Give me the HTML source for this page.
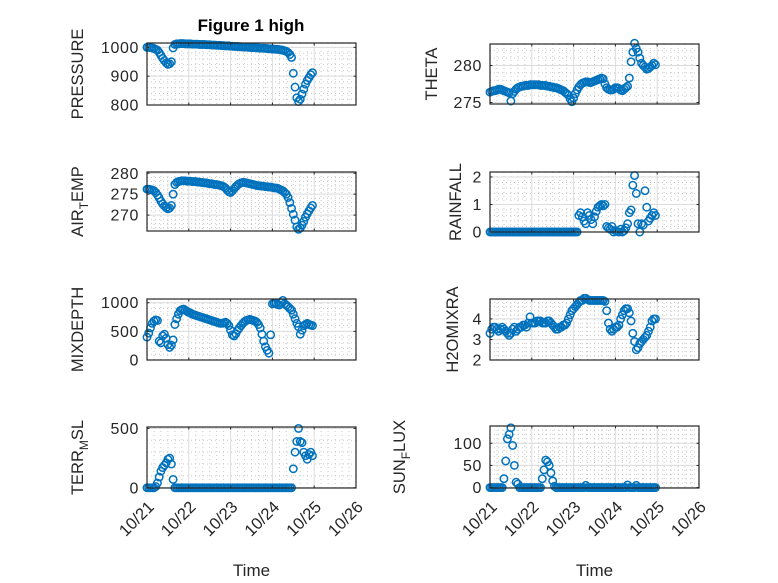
<!DOCTYPE html>
<html><head><meta charset="utf-8"><style>
html,body{margin:0;padding:0;background:#fff;}
svg{display:block;font-family:"Liberation Sans","DejaVu Sans",sans-serif;}
</style></head><body>
<svg id="fig" width="778" height="583" viewBox="0 0 778 583" xmlns="http://www.w3.org/2000/svg">
<rect width="778" height="583" fill="#fff"/>
<text x="251" y="31" text-anchor="middle" font-weight="bold" font-size="17" fill="#000">Figure 1 high</text>
</svg>
<script>
const xTickLabels = ["10/21","10/22","10/23","10/24","10/25","10/26"];
const pressure = [1000,1000,999,998,996,993,990,982,972,962,954,946,941,943,950,998,
1010,1012,1012,1013,1013,1013,1012,1012,1012,1012,1011,1011,1011,1011,1010,1010,
1010,1010,1009,1009,1009,1008,1008,1008,1007,1007,1007,1006,1006,1005,1005,1005,
1004,1004,1003,1003,1003,1002,1002,1001,1001,1001,1000,1000,999,999,999,998,
998,997,997,997,996,996,995,995,994,994,993,993,992,991,990,988,986,
982,975,965,910,862,825,812,820,838,855,872,885,895,905,912];
const airTemp = [276.2,276.2,276.1,276,275.8,275.4,274.8,274.1,273.3,272.7,272.2,271.8,271.5,271.7,272.3,275,
277.3,277.8,278,278.1,278.2,278.2,278.2,278.1,278.1,278.1,278,278,278,277.9,277.9,277.8,
277.8,277.7,277.7,277.6,277.5,277.5,277.4,277.3,277.3,277.2,277.1,277,276.8,276.5,276,275.6,
275.4,275.8,276.3,276.8,277.2,277.5,277.7,277.8,277.8,277.7,277.6,277.5,277.4,277.3,277.2,277.1,
277,277,276.9,276.9,276.8,276.8,276.7,276.7,276.6,276.5,276.5,276.4,276.2,276,275.8,275.4,275,
274.2,273,271.6,270.2,268.8,267.2,266.6,266.9,267.6,268.5,269.5,270.3,271,271.7,272.3];
const mixDepth = [400,470,560,640,680,700,690,330,300,420,450,380,270,220,260,350,
620,720,800,860,880,890,870,850,830,820,800,790,780,770,760,750,
740,730,720,710,700,690,680,670,660,650,640,640,650,660,640,600,
520,440,420,460,520,560,600,640,670,690,700,710,700,690,680,660,
620,560,450,330,230,170,120,440,980,990,990,970,960,1000,1040,980,960,
930,900,870,800,720,640,580,450,520,600,620,640,620,610,600];
const terrMsl = [0,0,0,0,0,10,40,90,140,170,190,210,240,250,200,70,
0,0,0,0,0,0,0,0,0,0,0,0,0,0,0,0,0,0,0,0,0,0,0,0,0,0,0,0,0,0,0,0,0,0,0,0,
0,0,0,0,0,0,0,0,0,0,0,0,0,0,0,0,0,0,0,0,0,0,0,0,0,0,0,0,0,0,0,0,
160,300,390,500,390,380,300,270,240,280,300,270];
const theta = [276.4,276.5,276.6,276.6,276.7,276.8,276.8,276.7,276.6,276.5,276.4,276.3,275.2,276.2,276.5,276.8,
277,277.1,277.2,277.2,277.3,277.3,277.3,277.4,277.4,277.4,277.4,277.4,277.4,277.3,277.3,277.3,
277.3,277.2,277.2,277.1,277.1,277,277,276.9,276.8,276.7,276.6,276.4,276.2,276,275.5,275.1,
275.6,276.2,276.7,277.1,277.4,277.6,277.7,277.8,277.8,277.7,277.7,277.8,277.9,278,278.1,278.2,
278.3,278.2,277.5,277,276.8,276.7,276.7,276.8,277,277,276.9,276.7,276.6,276.8,277,277.2,278.3,
280.5,281.8,283,282.3,281.8,281,280.3,280,279.8,279.5,279.6,279.8,280,280.3,280.1];
const rainfall = [0,0,0,0,0,0,0,0,0,0,0,0,0,0,0,0,0,0,0,0,0,0,0,0,0,0,0,0,0,0,0,0,0,0,0,0,0,0,0,0,0,0,0,0,0,0,0,0,0,0,0,
0.6,0.7,0.55,0.4,0.3,0.7,0.6,0.45,0.3,0.55,0.75,0.9,0.95,1.0,0.95,1.0,
0.2,0.15,0.1,0.2,0,0.05,0.02,0,0.1,0,0.05,0.15,0.3,0.7,
0.8,1.7,2.05,1.4,0.3,0,0.3,0.25,1.5,0.9,0.4,0.5,0.6,0.7,0.6];
const h2oMix = [3.3,3.5,3.6,3.6,3.5,3.4,3.5,3.6,3.5,3.4,3.3,3.2,3.3,3.5,3.6,3.4,
3.5,3.6,3.6,3.7,3.7,3.6,3.8,4.1,3.8,3.8,3.8,3.9,3.9,3.9,3.8,3.8,
3.8,3.9,3.9,3.8,3.7,3.6,3.5,3.5,3.6,3.6,3.7,3.7,3.8,4.0,4.2,4.4,
4.5,4.6,4.7,4.8,4.9,4.9,5.0,5.0,4.95,4.9,4.9,4.9,4.9,4.9,4.9,4.9,
4.9,4.9,4.85,4.4,3.8,3.5,3.4,3.5,3.6,3.6,3.7,4.0,4.2,4.4,4.5,4.5,4.3,
3.9,3.3,2.9,2.5,2.6,2.8,2.9,3.0,3.1,3.2,3.4,3.6,3.9,4.0,4.0];
const sunFlux = [0,0,0,0,0,0,0,0,
20,60,110,120,135,95,50,12,8,
0,0,0,0,0,0,0,0,0,0,0,0,0,
20,40,62,58,50,33,15,3,0,
0,0,0,0,0,0,0,0,0,0,0,0,0,0,0,0,5,
0,0,0,0,0,0,0,0,0,0,0,0,0,0,0,0,0,0,0,0,0,0,0,6,0,0,0,0,5,
0,0,0,0,0,0,0,0,0,0,0];
const pressureTicks=[800,900,1000], airTicks=[270,275,280], mixTicks=[0,500,1000], terrTicks=[0,500];
const thetaTicks=[275,280], rainTicks=[0,1,2], h2oTicks=[2,3,4], sunTicks=[0,50,100];
const hoursPerStep = 1, daysSpan = 5;

const NS="http://www.w3.org/2000/svg";
const svg=document.getElementById('fig');
function mk(tag,attrs,parent){const e=document.createElementNS(NS,tag);for(const k in attrs)e.setAttribute(k,attrs[k]);(parent||svg).appendChild(e);return e;}

const panels=[
 {key:'pressure',data:pressure,ticks:pressureTicks,ymin:800,ymax:1015,x0:147,x1:356,y0:43,y1:105,lab:['PRESSURE'],lx:77,showX:false},
 {key:'air-temp',data:airTemp,ticks:airTicks,ymin:266.2,ymax:280.3,x0:147,x1:356,y0:172,y1:231,lab:['AIR','T','EMP'],lx:77,showX:false},
 {key:'mixdepth',data:mixDepth,ticks:mixTicks,ymin:0,ymax:1065,x0:147,x1:356,y0:299,y1:360,lab:['MIXDEPTH'],lx:77,showX:false},
 {key:'terr-msl',data:terrMsl,ticks:terrTicks,ymin:-2,ymax:512,x0:147,x1:356,y0:427,y1:488,lab:['TERR','M','SL'],lx:77,showX:true},
 {key:'theta',data:theta,ticks:thetaTicks,ymin:274.8,ymax:282.9,x0:490,x1:699,y0:44,y1:104,lab:['THETA'],lx:431,showX:false},
 {key:'rainfall',data:rainfall,ticks:rainTicks,ymin:0,ymax:2.18,x0:490,x1:699,y0:172,y1:232,lab:['RAINFALL'],lx:455,showX:false},
 {key:'h2omixra',data:h2oMix,ticks:h2oTicks,ymin:2,ymax:4.97,x0:490,x1:699,y0:299,y1:360,lab:['H2OMIXRA'],lx:452,showX:false},
 {key:'sun-flux',data:sunFlux,ticks:sunTicks,ymin:-1,ymax:139,x0:490,x1:699,y0:426,y1:488,lab:['SUN','F','LUX'],lx:399,showX:true}
];

panels.forEach(p=>{
  const g=mk('g',{});
  
  
  const xs=h=>p.x0+(h/24)/daysSpan*(p.x1-p.x0);
  const ys=v=>p.y1-(v-p.ymin)/(p.ymax-p.ymin)*(p.y1-p.y0);
  mk('rect',{x:p.x0,y:p.y0,width:p.x1-p.x0,height:p.y1-p.y0,fill:'#fff'},g);
  for(let d=0;d<daysSpan;d++)for(let m=1;m<6;m++){const x=xs((d+m/6)*24);
    mk('line',{x1:x,x2:x,y1:p.y0,y2:p.y1,stroke:'#c8c8c8','stroke-width':1,'stroke-dasharray':'1,3'},g);}
  const step=p.ticks[1]-p.ticks[0];
  for(let v=p.ticks[0]-step;v<=p.ymax;v+=step/5){if(v<p.ymin)continue;const y=ys(v);
    mk('line',{x1:p.x0,x2:p.x1,y1:y,y2:y,stroke:'#c8c8c8','stroke-width':1,'stroke-dasharray':'1,3'},g);}
  for(let d=1;d<daysSpan;d++){const x=xs(d*24);mk('line',{x1:x,x2:x,y1:p.y0,y2:p.y1,stroke:'#dcdcdc','stroke-width':1},g);}
  p.ticks.forEach(v=>{const y=ys(v);mk('line',{x1:p.x0,x2:p.x1,y1:y,y2:y,stroke:'#dcdcdc','stroke-width':1},g);});
  const sg=mk('g',{fill:'none',stroke:'#0072BD','stroke-width':1.5},g);
  
  
  p.data.forEach((v,i)=>{const c=mk('circle',{cx:xs(i*hoursPerStep),cy:ys(v),r:3.7},sg);
    
    });
  mk('rect',{x:p.x0,y:p.y0,width:p.x1-p.x0,height:p.y1-p.y0,fill:'none',stroke:'#262626','stroke-width':1.2},g);
  for(let d=0;d<=daysSpan;d++){const x=xs(d*24);
    mk('line',{x1:x,x2:x,y1:p.y1,y2:p.y1-2.5,stroke:'#262626'},g);
    mk('line',{x1:x,x2:x,y1:p.y0,y2:p.y0+2.5,stroke:'#262626'},g);
    if(p.showX){const t=mk('text',{x:0,y:0,'font-size':16.5,fill:'#262626','text-anchor':'end',transform:`translate(${x+8},${p.y1+20}) rotate(-45)`},g);
      t.textContent=xTickLabels[d];
      
      }
  }
  p.ticks.forEach(v=>{const y=ys(v);
    mk('line',{x1:p.x0,x2:p.x0+2.5,y1:y,y2:y,stroke:'#262626'},g);
    mk('line',{x1:p.x1,x2:p.x1-2.5,y1:y,y2:y,stroke:'#262626'},g);
    const t=mk('text',{x:p.x0-8,y:y+5.5,'font-size':16,fill:'#262626','text-anchor':'end','letter-spacing':0.6},g);
    t.textContent=v;
    
    });
  const cy=(p.y0+p.y1)/2;
  const t=mk('text',{x:0,y:0,'font-size':16.5,fill:'#262626','text-anchor':'middle',transform:`translate(${p.lx+6},${cy}) rotate(-90)`},g);
  
  
  if(p.lab.length===1){t.textContent=p.lab[0];}
  else{const a=mk('tspan',{},t);a.textContent=p.lab[0];
    const b=mk('tspan',{dy:5,'font-size':12},t);b.textContent=p.lab[1];
    const c=mk('tspan',{dy:-5},t);c.textContent=p.lab[2];}
  if(p.showX){const tt=mk('text',{x:(p.x0+p.x1)/2,y:576,'font-size':17,fill:'#262626','text-anchor':'middle'},g);
    tt.textContent='Time';
    
    }
});
</script>
</body></html>
